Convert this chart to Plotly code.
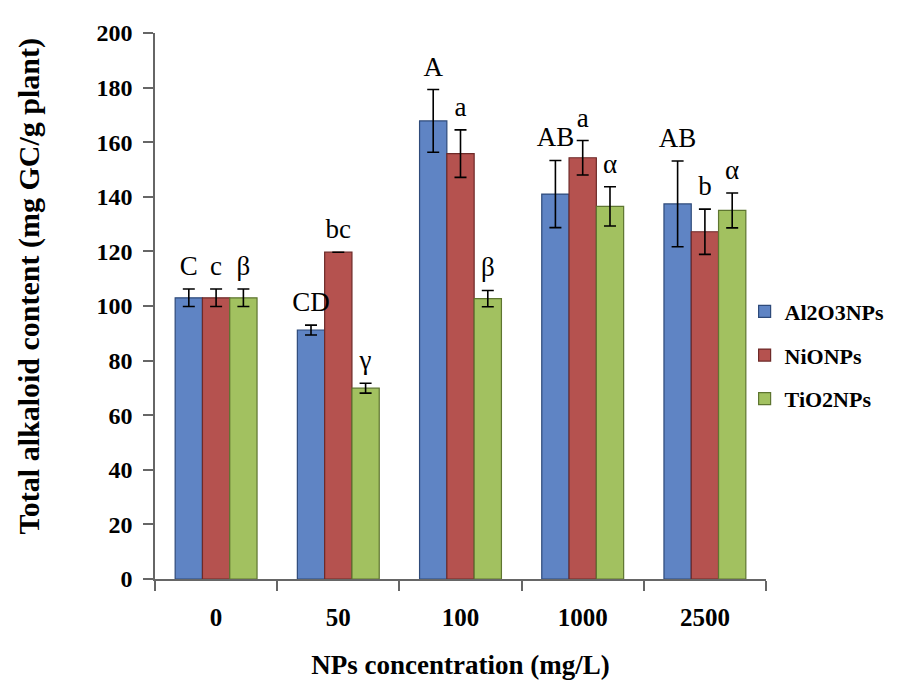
import plotly.graph_objects as go

categories = ["0", "50", "100", "1000", "2500"]
series_names = ["Al2O3NPs", "NiONPs", "TiO2NPs"]

al2o3_values = [103, 91.2, 167.8, 141, 137.4]
al2o3_errors = [3.2, 1.8, 11.5, 12.3, 15.7]
al2o3_labels = ["C", "CD", "A", "AB", "AB"]

nio_values = [103, 119.7, 155.8, 154.3, 127.2]
nio_errors = [3.2, 0, 8.7, 6.3, 8.3]
nio_labels = ["c", "bc", "a", "a", "b"]

tio2_values = [103, 69.9, 102.7, 136.5, 135]
tio2_errors = [3.2, 1.8, 3.0, 7.2, 6.4]
tio2_labels = ["β", "γ", "β", "α", "α"]

y_ticks = [0, 20, 40, 60, 80, 100, 120, 140, 160, 180, 200]

colors = ["#5F84C4", "#B5524F", "#A2C160"]
edge_colors = ["#2E4A7A", "#6E2A28", "#5E7530"]

FONT = "Liberation Serif"
bargap = 0.33
bar_w = (1 - bargap) / 3

fig = go.Figure()
values = [al2o3_values, nio_values, tio2_values]
errors = [al2o3_errors, nio_errors, tio2_errors]
labels = [al2o3_labels, nio_labels, tio2_labels]
xidx = list(range(len(categories)))

for j in range(3):
    fig.add_trace(go.Bar(
        x=xidx, y=values[j], name=series_names[j],
        legendgroup=series_names[j],
        marker=dict(color=colors[j], line=dict(color=edge_colors[j], width=1.2)),
        error_y=dict(type="data", array=errors[j], visible=True,
                     color="black", thickness=1.6, width=6),
    ))

for j in range(3):
    xs = [i + (j - 1) * bar_w for i in xidx]
    ys = [v + e for v, e in zip(values[j], errors[j])]
    fig.add_trace(go.Scatter(
        x=xs, y=ys, mode="markers+text", text=labels[j],
        textposition="top center",
        marker=dict(size=10, color="rgba(0,0,0,0)"),
        textfont=dict(family=FONT, size=27, color="black"),
        showlegend=False, hoverinfo="skip", cliponaxis=False,
    ))

fig.update_layout(
    width=898, height=683,
    margin=dict(l=147, r=140, t=19, b=112),
    paper_bgcolor="white", plot_bgcolor="white",
    barmode="group", bargap=bargap, bargroupgap=0,
    showlegend=True,
    legend=dict(x=0.965, xanchor="left", y=0.41, yanchor="middle",
                font=dict(family=FONT, size=22, color="black", weight="bold"),
                tracegroupgap=12, traceorder="grouped",
                itemwidth=30, bgcolor="rgba(0,0,0,0)"),
    font=dict(family=FONT, color="black"),
    annotations=[dict(
        text="Total alkaloid content (mg GC/g plant)",
        xref="paper", yref="paper", x=-0.207, y=0.535,
        xanchor="center", yanchor="middle", textangle=-90, showarrow=False,
        font=dict(family=FONT, size=30, color="black", weight="bold"),
    )],
)

fig.update_xaxes(
    range=[-0.5, 4.5], tickvals=xidx, ticktext=categories,
    ticks="", showgrid=False, zeroline=False,
    showline=True, linecolor="#666666", linewidth=1.5,
    tickfont=dict(family=FONT, size=25, color="black", weight="bold"),
    ticklabelstandoff=15,
    minor=dict(tick0=0.5, dtick=1, ticks="outside", ticklen=10,
               tickcolor="#666666", tickwidth=1.5, showgrid=False),
    title=dict(text="NPs concentration (mg/L)",
               font=dict(family=FONT, size=27, color="black", weight="bold"),
               standoff=25),
)

fig.update_yaxes(
    range=[0, 200], tickvals=y_ticks,
    ticks="outside", ticklen=10, tickcolor="#666666", tickwidth=1.5,
    showgrid=False, zeroline=False,
    showline=True, linecolor="#666666", linewidth=1.5,
    tickfont=dict(family=FONT, size=24, color="black", weight="bold"),
    ticklabelstandoff=6,
)

fig.write_html("out.html")
